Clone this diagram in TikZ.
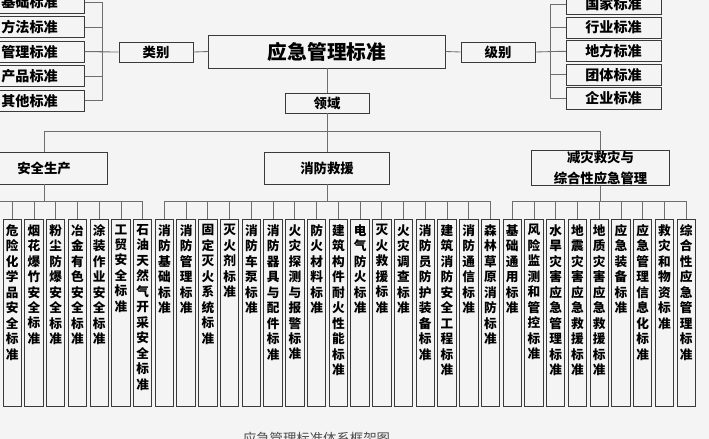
\documentclass[tikz,border=0pt]{standalone}
\usepackage{fontspec}
\setmainfont{Noto Sans CJK SC}
\XeTeXlinebreaklocale "zh"
\XeTeXlinebreakskip=0pt plus 1pt

\definecolor{bg}{HTML}{F4F4F4}
\definecolor{edge}{HTML}{3A3A3A}
\definecolor{wire}{HTML}{6E6E6E}

\tikzset{
	box/.style={draw=edge, line width=0.7pt, inner sep=0pt, align=center,
		font=\bfseries\fontsize{9.5}{11}\selectfont},
	sidebox/.style={box, minimum height=0.53cm, font=\bfseries\fontsize{10}{12}\selectfont},
	leaf/.style={box, anchor=north, minimum width=0.46cm, minimum height=4.675cm},
	leaftext/.style={anchor=north, yshift=-0.13cm, inner sep=0pt, text width=9pt, align=center,
		font=\bfseries\fontsize{9}{11}\selectfont},
	link/.style={draw=wire, line width=0.6pt}
}

\begin{document}
\begin{tikzpicture}[x=0.025cm, y=-0.025cm]
	\path[use as bounding box, fill=bg] (0, 0) rectangle (709, 439);
	\clip (0, 0) rectangle (709, 439);

	% root and the three axes
	\node[box, minimum width=5.9cm, minimum height=0.825cm, font=\bfseries\fontsize{14}{16}\selectfont]
		(root) at (327, 51.5) {应急管理标准};
	\node[box, minimum width=1.85cm, minimum height=0.5cm] (lb) at (156, 52) {类别};
	\node[box, minimum width=1.85cm, minimum height=0.5cm] (jb) at (498, 52) {级别};
	\node[box, minimum width=2.1cm, minimum height=0.5cm] (ly) at (327, 103) {领域};

	% category column
	\foreach \t [count=\n] in {基础标准, 方法标准, 管理标准, 产品标准, 其他标准}
		\node[sidebox, minimum width=2.725cm] (c\n) at (29.5, {2.5+24.6*(\n-1)}) {\t};
	% level column
	\foreach \t [count=\n] in {国家标准, 行业标准, 地方标准, 团体标准, 企业标准}
		\node[sidebox, minimum width=2.375cm] (r\n) at (613.5, {4+23.6*(\n-1)}) {\t};

	\coordinate (lbk) at (102, 52);
	\coordinate (rbk) at (550, 52);
	\foreach \n in {1,...,5} {
		\draw[link] (c\n.east) -- (c\n.east -| lbk);
		\draw[link] (r\n.west) -- (r\n.west -| rbk);
	}
	\draw[link] (c1.east -| lbk) -- (c5.east -| lbk);
	\draw[link] (r1.west -| rbk) -- (r5.west -| rbk);
	\draw[link] (c3.east) -- (lb.west);
	\draw[link] (lb.east) -- (root.west);
	\draw[link] (root.east) -- (jb.west);
	\draw[link] (jb.east) -- (r3.west);

	% fields
	\node[box, minimum width=3.15cm, minimum height=0.8cm] (aq) at (44, 168) {安全生产};
	\node[box, minimum width=3.1cm, minimum height=0.8cm] (xf) at (327, 168) {消防救援};
	\node[box, minimum width=3.425cm, minimum height=0.8cm, font=\bfseries\fontsize{9.5}{15.5pt}\selectfont]
		(jz) at (600.5, 168) {减灾救灾与\\综合性应急管理};

	\draw[link] (root.south) -- (ly.north);
	\draw[link] (ly.south) -- (xf.north);
	\draw[link] (aq.north) -- ++(0, -20) -| (jz.north);

	% standards of each field
	\foreach \t [count=\i from 0] in {危险化学品安全标准, 烟花爆竹安全标准, 粉尘防爆安全标准,
		冶金有色安全标准, 涂装作业安全标准, 工贸安全标准, 石油天然气开采安全标准,
		消防基础标准, 消防管理标准, 固定灭火系统标准, 灭火剂标准, 消防车泵标准,
		消防器具与配件标准, 火灾探测与报警标准, 防火材料标准, 建筑构件耐火性能标准,
		电气防火标准, 灭火救援标准, 火灾调查标准, 消防员防护装备标准,
		建筑消防安全工程标准, 消防通信标准, 森林草原消防标准,
		基础通用标准, 风险监测和管控标准, 水旱灾害应急管理标准, 地震灾害应急救援标准,
		地质灾害应急救援标准, 应急装备标准, 应急管理信息化标准, 救灾和物资标准,
		综合性应急管理标准} {
		\node[leaf] (l\i) at ({12.25+21.74*\i}, 219) {};
		\node[leaftext] (t\i) at (l\i.north) {\t};
	}

	\coordinate (bar) at (0, 201);
	\foreach \i in {0,...,31}
		\draw[link] (l\i.north) -- (l\i.north |- bar);
	\draw[link] (bar) -- (l6.north |- bar);
	\draw[link] (l7.north |- bar) -- (l22.north |- bar);
	\draw[link] (l23.north |- bar) -- (l31.north |- bar);
	\draw[link] (aq.south) -- (aq.south |- bar);
	\draw[link] (xf.south) -- (xf.south |- bar);
	\draw[link] (jz.south) -- (jz.south |- bar);

	% caption
	\node[text=black!70, font=\fontsize{9.5}{11}\selectfont] (cap) at (316.5, 438) {应急管理标准体系框架图};
\end{tikzpicture}
\end{document}
